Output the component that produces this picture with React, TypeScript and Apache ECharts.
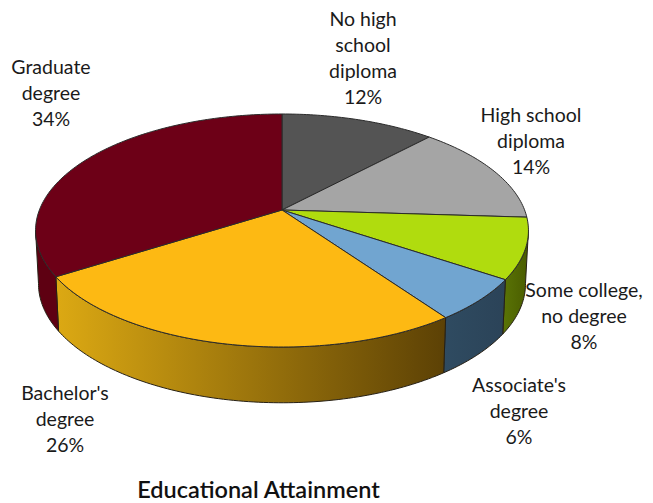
import React, { useEffect, useRef } from "react";
import * as echarts from "echarts";

const categories = ["No high school diploma", "High school diploma", "Some college, no degree", "Associate's degree", "Bachelor's degree", "Graduate degree"];
const labelLines = ["No high\nschool\ndiploma", "High school\ndiploma", "Some college,\nno degree", "Associate's\ndegree", "Bachelor's\ndegree", "Graduate\ndegree"];
const shares = [12, 14, 8.4, 5.8, 25.8, 34];
const percentLabels = ["12%", "14%", "8%", "6%", "26%", "34%"];
const topColors = ["#545454", "#a5a5a5", "#b0dc0e", "#71a5d0", "#fdb913", "#6d0017"];
const sideStart = ["#3a3a3a", "#707070", "#5a7406", "#2f4b61", "#dca913", "#5e0012"];
const sideEnd = ["#3a3a3a", "#707070", "#4a5c00", "#2b4358", "#5c4105", "#5e0012"];

// Label centres belong to the layout, not to the data.
const labelCenters: [number, number][] = [[363, 57], [531, 140], [584, 315], [519, 410], [65, 418.5], [51, 92]];

const CX = 282, CY = 210, A = 242.6, B = 112.9, P = 0.176;
const DROP = 53, SHRINK_X = 0.988, GROW_Y = 1.02;
const SIDE_FROM = 100, SIDE_TO = 260;

const topPoint = (deg: number): [number, number] => {
  const t = (deg * Math.PI) / 180;
  const u = Math.sin(t), v = -Math.cos(t), d = 1 - P * v;
  return [CX + (A * u) / d, CY + (B * v) / d];
};
const bottomPoint = (deg: number): [number, number] => {
  const [x, y] = topPoint(deg);
  return [CX + (x - CX) * SHRINK_X, CY + DROP + (y - CY) * GROW_Y];
};
const arc = (fn: (d: number) => [number, number], from: number, to: number) => {
  const pts: [number, number][] = [];
  const n = Math.max(2, Math.ceil(Math.abs(to - from)));
  for (let i = 0; i <= n; i++) pts.push(fn(from + ((to - from) * i) / n));
  return pts;
};
const total = shares.reduce((a, b) => a + b, 0);
const range = (i: number): [number, number] => {
  const before = shares.slice(0, i).reduce((a, b) => a + b, 0);
  return [(before / total) * 360, ((before + shares[i]) / total) * 360];
};

const seriesData = categories.map((name, i) => ({ name, value: shares[i] }));

export default function App() {
  const ref = useRef<HTMLDivElement>(null);
  useEffect(() => {
    if (!ref.current) return;
    const chart = echarts.init(ref.current, undefined, { renderer: "svg" });
    chart.setOption({
      animation: false,
      backgroundColor: "#ffffff",
      title: {
        text: "Educational Attainment",
        left: 258.5,
        textAlign: "center",
        top: 478,
        padding: 0,
        textStyle: { fontFamily: "Lato", fontSize: 23.5, lineHeight: 22, fontWeight: 600, color: "#111111" },
      },
      series: [
        {
          type: "custom",
          coordinateSystem: "none",
          silent: true,
          z: 1,
          data: seriesData,
          renderItem: (p: any) => {
            const i = p.dataIndex;
            const [a0, b0] = range(i);
            const a = Math.max(a0, SIDE_FROM), b = Math.min(b0, SIDE_TO);
            if (a >= b) return { type: "group", children: [] };
            const pts = [...arc(topPoint, a, b), ...arc(bottomPoint, b, a)];
            return {
              type: "polygon",
              shape: { points: pts },
              style: {
                fill: new echarts.graphic.LinearGradient(0, 0, 1, 0, [
                  { offset: 0, color: sideStart[i] },
                  { offset: 1, color: sideEnd[i] },
                ]),
                stroke: "#262015",
                lineWidth: 1,
              },
            };
          },
        },
        {
          type: "custom",
          coordinateSystem: "none",
          silent: true,
          z: 2,
          data: seriesData,
          renderItem: (p: any) => {
            const i = p.dataIndex;
            const [a, b] = range(i);
            return {
              type: "polygon",
              shape: { points: [[CX, CY], ...arc(topPoint, a, b)] },
              style: { fill: topColors[i], stroke: "#2b2b2b", lineWidth: 1 },
            };
          },
        },
        {
          type: "custom",
          coordinateSystem: "none",
          silent: true,
          z: 3,
          data: seriesData,
          renderItem: (p: any) => {
            const i = p.dataIndex;
            return {
              type: "text",
              x: labelCenters[i][0],
              y: labelCenters[i][1],
              style: {
                text: labelLines[i] + "\n" + percentLabels[i],
                fontFamily: "Lato",
                fontSize: 19.5,
                lineHeight: 26,
                fill: "#1a1a1a",
                align: "center",
                verticalAlign: "middle",
              },
            };
          },
        },
      ],
    });
    return () => chart.dispose();
  }, []);
  return <div ref={ref} style={{ position: "fixed", left: 0, top: 0, width: 653, height: 503 }} />;
}
